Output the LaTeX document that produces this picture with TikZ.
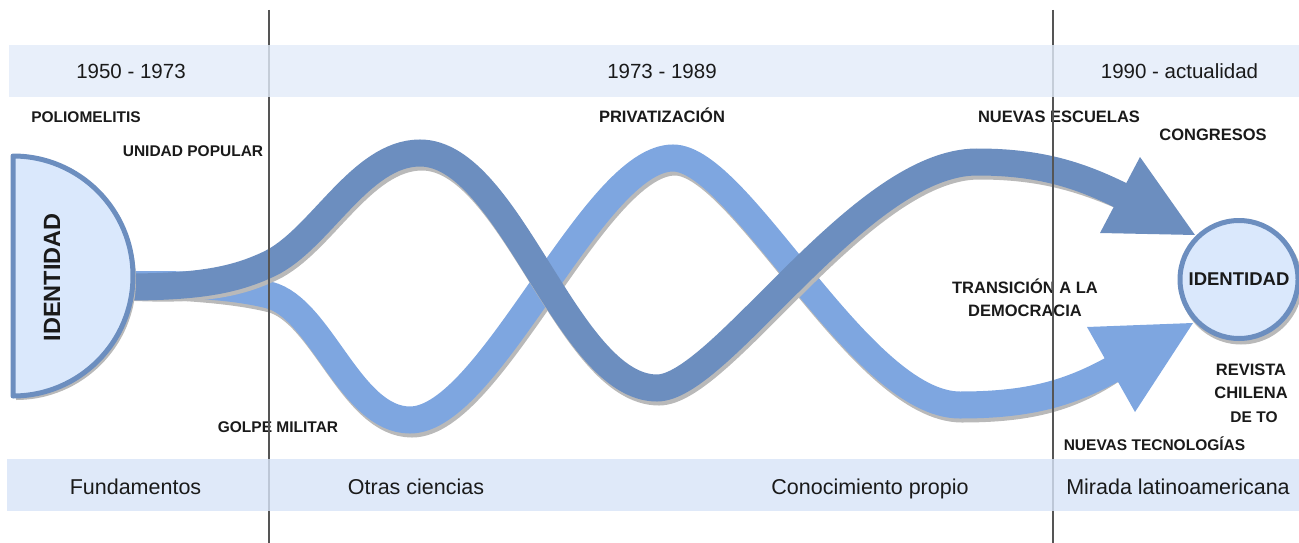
\documentclass[tikz,border=0pt]{standalone}
\usepackage{fontspec}
\setmainfont{Liberation Sans}
\definecolor{dk}{HTML}{6C8EBF}
\definecolor{lt}{HTML}{7EA6E0}
\definecolor{fillb}{HTML}{DAE8FC}
\definecolor{shd}{RGB}{185,185,185}
\definecolor{topband}{RGB}{226,235,249}
\definecolor{botband}{RGB}{215,228,248}
\definecolor{vline}{HTML}{555555}
\definecolor{txt}{HTML}{1A1A1A}
\tikzset{
  lbl/.style={font=\fontsize{15.5}{18.5}\selectfont\bfseries, text=txt, inner sep=0pt, anchor=base},
  lblb/.style={lbl, font=\fontsize{16.5}{19.5}\selectfont\bfseries},
  hdr/.style={font=\fontsize{20.5}{24}\selectfont, text=txt, inner sep=0pt, anchor=base},
  ftr/.style={font=\fontsize{21.5}{25}\selectfont, text=txt, inner sep=0pt, anchor=base},
  ribbon/.style={line width=27pt},
  shadowline/.style={line width=27pt, draw=shd},
  divline/.style={draw=vline, line width=1.3pt},
}
\begin{document}
\begin{tikzpicture}[x=1pt,y=-1pt]
\useasboundingbox (0,0) rectangle (1299,543);

% coordinates of the ribbon ends and arrow heads
\coordinate (lstart) at (125,285);
\coordinate (lend) at (1115,368);
\coordinate (ltip) at (1193,323);
\coordinate (lc1) at (1087,327);
\coordinate (lc2) at (1135,412);
\coordinate (dstart) at (125,287);
\coordinate (dend) at (1124,197);
\coordinate (dtip) at (1195,235);
\coordinate (dc1) at (1140,157);
\coordinate (dc2) at (1100,233);

% light ribbon
\draw[shadowline, shift={(2,4)}] (lstart) .. controls (200,283) and (240,288) .. (269,295)
  .. controls (321,308) and (350,420) .. (410,420)
  .. controls (490,420) and (593,158) .. (673,158)
  .. controls (740,158) and (860,405) .. (960,405)
  .. controls (1030,405) and (1070,393) .. (lend);
\draw[ribbon, draw=lt] (lstart) .. controls (200,283) and (240,288) .. (269,295)
  .. controls (321,308) and (350,420) .. (410,420)
  .. controls (490,420) and (593,158) .. (673,158)
  .. controls (740,158) and (860,405) .. (960,405)
  .. controls (1030,405) and (1070,393) .. (lend);
\fill[lt] (ltip) -- (lc1) -- (lc2) -- cycle;

% dark ribbon
\draw[shadowline, shift={(2,4)}] (dstart) .. controls (200,287) and (235,280) .. (269,264)
  .. controls (320,240) and (360,153) .. (420,153)
  .. controls (510,153) and (567,388) .. (657,388)
  .. controls (720,388) and (860,162) .. (977,162)
  .. controls (1040,162) and (1080,175) .. (dend);
\draw[ribbon, draw=dk] (dstart) .. controls (200,287) and (235,280) .. (269,264)
  .. controls (320,240) and (360,153) .. (420,153)
  .. controls (510,153) and (567,388) .. (657,388)
  .. controls (720,388) and (860,162) .. (977,162)
  .. controls (1040,162) and (1080,175) .. (dend);
\fill[dk] (dtip) -- (dc1) -- (dc2) -- cycle;

% left half circle
\fill[shd] (16,160) arc[start angle=-90, end angle=90, radius=120] -- cycle;
\draw[draw=dk, fill=fillb, line width=5pt, line join=round] (13,156) arc[start angle=-90, end angle=90, radius=120] -- cycle;
\node[font=\fontsize{23.5}{26}\selectfont\bfseries, text=txt, rotate=90, inner sep=0pt] (idl) at (52,277.5) {IDENTIDAD};

% right circle
\node[circle, fill=shd, minimum size=123pt, inner sep=0pt] (idrs) at (1241,283) {};
\node[circle, draw=dk, fill=fillb, line width=5pt, minimum size=118pt, inner sep=0pt,
      font=\fontsize{18.5}{22}\selectfont\bfseries, text=txt] (idr) at (1239,279.5) {IDENTIDAD};

% labels
\node[lbl] (polio) at (86,122) {POLIOMELITIS};
\node[lbl] (unidad) at (193,156.5) {UNIDAD POPULAR};
\node[lbl] (golpe) at (278,432.5) {GOLPE MILITAR};
\node[lblb] (priv) at (662,122) {PRIVATIZACIÓN};
\node[lblb] (escuelas) at (1059,122.5) {NUEVAS ESCUELAS};
\node[lblb] (congresos) at (1213,140) {CONGRESOS};
\node[lblb] (trans1) at (1025,293) {TRANSICIÓN A LA};
\node[lblb] (trans2) at (1025,316.5) {DEMOCRACIA};
\node[lblb] (rev1) at (1251,375) {REVISTA};
\node[lblb] (rev2) at (1251,398.5) {CHILENA};
\node[lbl] (rev3) at (1254,422) {DE TO};
\node[lbl] (tecno) at (1154.5,450) {NUEVAS TECNOLOGÍAS};

% divider lines
\draw[divline] (269,10) -- (269,543);
\draw[divline] (1053,10) -- (1053,543);

% bands
\fill[topband, opacity=0.8] (9,45) rectangle (1299,97);
\fill[botband, opacity=0.8] (7,459) rectangle (1299,511);

\node[hdr] (h1) at (131,79) {1950 - 1973};
\node[hdr] (h2) at (662,79) {1973 - 1989};
\node[hdr] (h3) at (1179.5,79) {1990 - actualidad};

\node[ftr] (f1) at (135.5,494) {Fundamentos};
\node[ftr] (f2) at (416,494) {Otras ciencias};
\node[ftr] (f3) at (870,494) {Conocimiento propio};
\node[ftr] (f4) at (1178,494) {Mirada latinoamericana};
\end{tikzpicture}
\end{document}
